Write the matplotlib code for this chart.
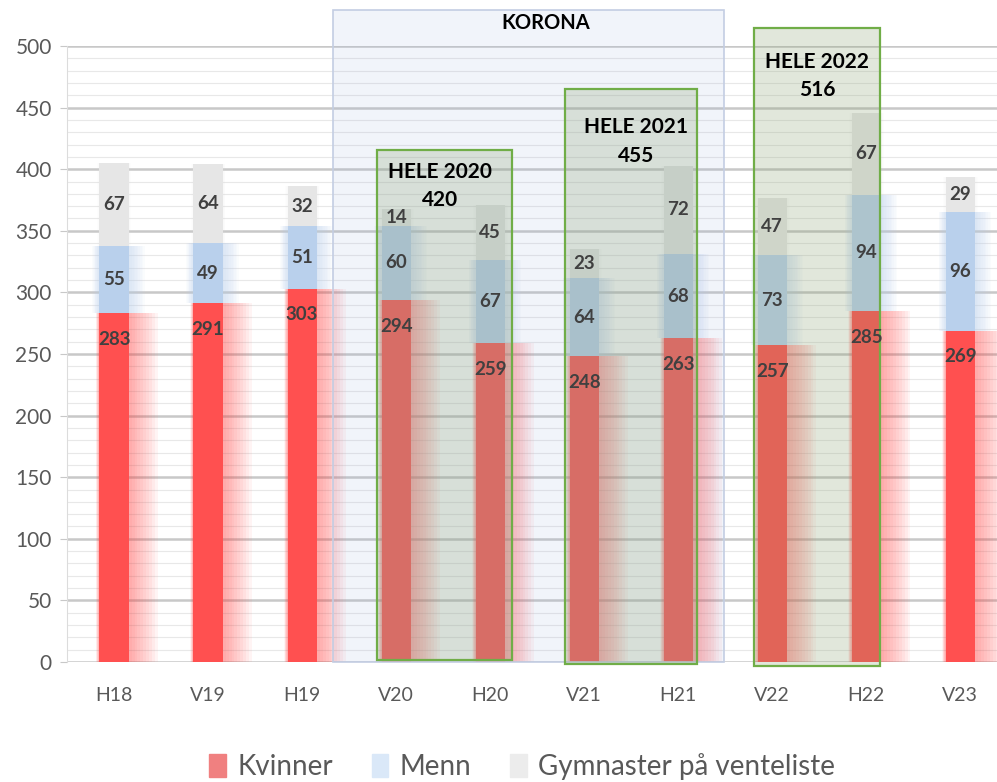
import matplotlib.pyplot as plt
from matplotlib.patches import Rectangle
import numpy as np

plt.rcParams['font.family'] = ['Lato', 'DejaVu Sans']

# semesters and counts
semestre = ['H18', 'V19', 'H19', 'V20', 'H20', 'V21', 'H21', 'V22', 'H22', 'V23']
kvinner = [283, 291, 303, 294, 259, 248, 263, 257, 285, 269]
menn = [55, 49, 51, 60, 67, 64, 68, 73, 94, 96]
venteliste = [67, 64, 32, 14, 45, 23, 72, 47, 67, 29]

# yearly totals shown in the green boxes
aar_labels = ['HELE 2020', 'HELE 2021', 'HELE 2022']
aar_totals = [420, 455, 516]

red = '#ff5050'
blue = '#b9d0ec'
grey = '#e6e6e6'

fig = plt.figure(figsize=(9.97, 7.82), dpi=100)
ax = fig.add_axes([67 / 997, 120 / 782, 930 / 997, 616 / 782])

x = np.arange(len(semestre))
w = 0.31
k = np.array(kvinner)
m = np.array(menn)
v = np.array(venteliste)


def glow_bar(bottom, height, color, spread=0.30, shift=0.10, n=10, a=0.06):
    # soft blurred look: stack of wider transparent bars behind the core bar
    for i in range(1, n + 1):
        ax.bar(x + shift * i / n, height, w + spread * i / n, bottom=bottom,
               color=color, alpha=a, linewidth=0, zorder=2)
    return ax.bar(x, height, w, bottom=bottom, color=color, linewidth=0, zorder=3)


b1 = glow_bar(0, k, red, spread=0.35, shift=0.14)
b2 = glow_bar(k, m, blue, spread=0.25, shift=0.05)
b3 = glow_bar(k + m, v, grey, spread=0.06, shift=0.0, n=3)

lab_kw = dict(fontsize=13.5, fontweight='bold', color='#404040')
for t in ax.bar_label(b1, padding=-25, **lab_kw):
    t.set_zorder(8)
for t in ax.bar_label(b2, label_type='center', **lab_kw):
    t.set_zorder(8)
for t in ax.bar_label(b3, label_type='center', **lab_kw):
    t.set_zorder(8)

# KORONA region
ax.add_patch(Rectangle((2.33, 0), 4.16, 529, facecolor='#96aadc', alpha=0.13,
                       edgecolor='none', clip_on=False, zorder=4))
ax.add_patch(Rectangle((2.33, 0), 4.16, 529, facecolor='none',
                       edgecolor='#c3cde3', linewidth=1.2, clip_on=False, zorder=4))
ax.text(4.59, 519, 'KORONA', ha='center', va='center', fontsize=14.5,
        fontweight='bold', color='black', zorder=9, clip_on=False)

# whole-year boxes
boxes = [(2.80, 1.6, 1.43, 414), (4.80, -1.6, 1.40, 466.6), (6.81, -3.2, 1.34, 518.2)]
centres = [(3.47, 398), (5.55, 434), (7.48, 487)]
for (bx, by, bw, bh), (cx, cy), lab, tot in zip(boxes, centres, aar_labels, aar_totals):
    ax.add_patch(Rectangle((bx, by), bw, bh, facecolor='#8ba373', alpha=0.25,
                           edgecolor='none', clip_on=False, zorder=5))
    ax.add_patch(Rectangle((bx, by), bw, bh, facecolor='none',
                           edgecolor='#70ad47', linewidth=1.6, clip_on=False, zorder=5))
    ax.text(cx, cy, lab, ha='center', va='center', fontsize=15, fontweight='bold',
            color='black', zorder=9)
    ax.text(cx, cy - 23, str(tot), ha='center', va='center', fontsize=15,
            fontweight='bold', color='black', zorder=9)

ax.set_xlim(-0.5, 9.39)
ax.set_ylim(0, 500)
ax.set_xticks(x)
ax.set_xticklabels(semestre)
ax.set_yticks(np.arange(0, 501, 50))
ax.set_yticks(np.arange(0, 501, 10), minor=True)
ax.grid(axis='y', which='major', color='#c8c8c8', linewidth=1.8, zorder=0)
ax.grid(axis='y', which='minor', color='#e8e8e8', linewidth=0.8, zorder=0)
ax.set_axisbelow(True)
for s in ['top', 'right', 'bottom']:
    ax.spines[s].set_visible(False)
ax.spines['left'].set_color('#dcdcdc')
ax.tick_params(axis='y', which='major', length=5, color='#c8c8c8', labelsize=15,
               labelcolor='#595959', pad=6)
ax.tick_params(axis='y', which='minor', length=0)
ax.tick_params(axis='x', length=0, labelsize=14, labelcolor='#595959', pad=18)

handles = [Rectangle((0, 0), 1, 1, color='#f08080'),
           Rectangle((0, 0), 1, 1, color='#dae8f8'),
           Rectangle((0, 0), 1, 1, color='#ececec')]
fig.legend(handles, ['Kvinner', 'Menn', 'Gymnaster på venteliste'], loc='center',
           bbox_to_anchor=(522 / 997, 1 - 767 / 782), ncol=3, frameon=False,
           fontsize=20, handlelength=0.6, handleheight=0.9, handletextpad=0.4,
           columnspacing=1.4, labelcolor='#595959')

fig.savefig('out.png', dpi=100)
